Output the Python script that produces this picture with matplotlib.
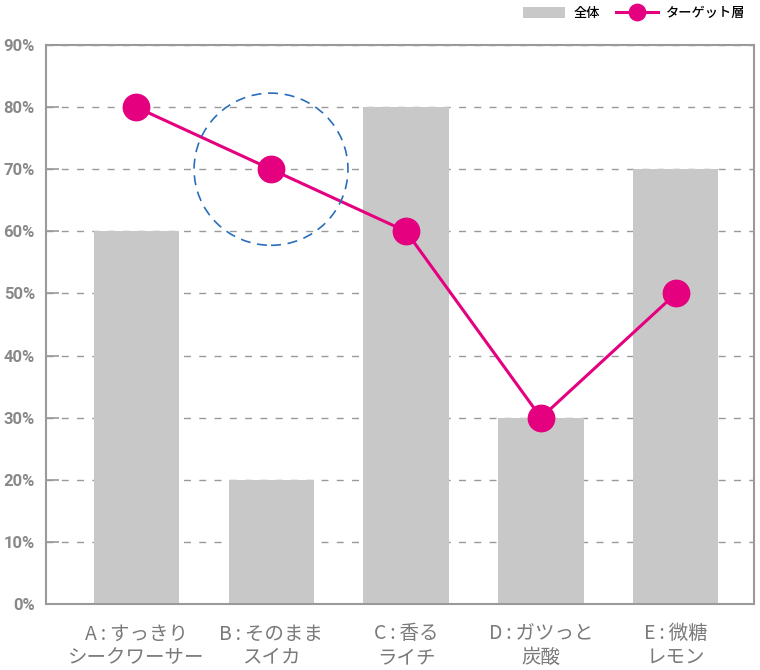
import matplotlib.pyplot as plt
from matplotlib.patches import Ellipse

plt.rcParams['font.family'] = ['Noto Sans CJK JP', 'DejaVu Sans']

categories = ["A\u2009:\u2009すっきり\nシークワーサー", "B\u2009:\u2009そのまま\nスイカ",
              "C\u2009:\u2009香る\nライチ", "D\u2009:\u2009ガツっと\n炭酸",
              "E\u2009:\u2009微糖\nレモン"]
overall = [60, 20, 80, 30, 70]
target = [80, 70, 60, 30, 50]
yticks = [0, 10, 20, 30, 40, 50, 60, 70, 80, 90]

bar_color = "#c8c8c8"
line_color = "#e4007f"
spine_color = "#9a9a9a"
text_color = "#7a7a7a"

fig = plt.figure(figsize=(7.6, 6.7), dpi=100)
ax = fig.add_axes([46/760, 1-604/670, 708/760, 559/670])

x = list(range(len(categories)))
bars = ax.bar(x, overall, width=0.63, color=bar_color, label="全体", zorder=2)
line, = ax.plot(x, target, color=line_color, lw=2.2, marker="o", markersize=19,
                label="ターゲット層", zorder=4)

# highlight ring around B
ax.add_patch(Ellipse((x[1], target[1]), 1.14, 24.5, fill=False,
                     edgecolor="#2a6ebb", lw=1.2, ls=(0, (6, 4)), zorder=5))

ax.set_xlim(-0.667, 4.578)
ax.set_ylim(0, 90)
ax.set_yticks(yticks)
ax.set_yticklabels([f"{v}%" for v in yticks], fontsize=12, color="#888888",
                   fontweight="bold", family="Roboto")
ax.set_xticks(x)
ax.set_xticklabels(categories, fontsize=14, color=text_color, linespacing=1.15)
ax.tick_params(axis="x", length=0, pad=14)
ax.tick_params(axis="y", direction="in", length=9, width=1.2, color=spine_color, pad=8)

ax.grid(axis="y", color="#999999", ls=(0, (5, 6)), lw=1)
ax.set_axisbelow(True)
for s in ax.spines.values():
    s.set_color(spine_color)
    s.set_linewidth(1.5)

ax.legend([bars, line], ["全体", "ターゲット層"], loc="center right",
          bbox_to_anchor=(0.9915, 1.057), ncol=2, frameon=False,
          prop={"size": 9.5, "weight": "medium"}, handlelength=3.2,
          handleheight=0.95, columnspacing=1.2, borderaxespad=0, borderpad=0.2,
          handletextpad=0.6, markerscale=0.62)

fig.savefig("out.png", dpi=100)
